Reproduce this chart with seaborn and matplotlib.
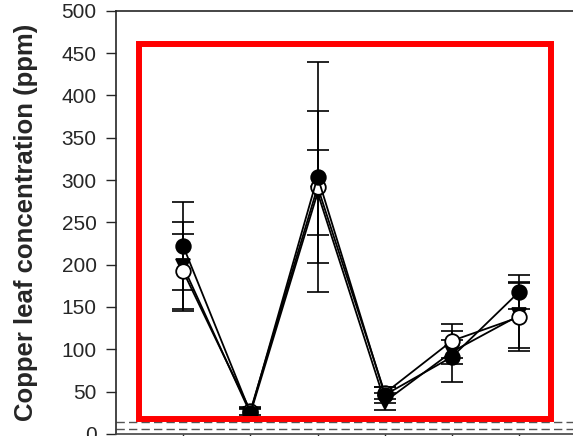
import matplotlib
matplotlib.use("Agg")
import matplotlib.pyplot as plt
import matplotlib.patches as patches
import pandas as pd
import seaborn as sns

# sampling points (categorical positions)
pos = [0, 1, 2, 3, 4, 5]

# three treatments: filled circle, open circle, filled triangle
cu_filled = [222, 25, 304, 46, 91, 168]
cu_open = [192, 27, 292, 48, 110, 138]
cu_tri = [198, 24, 285, 38, 97, 140]

err_filled = [52, 6, 136, 9, 30, 20]
err_open = [44, 5, 90, 7, 20, 40]
err_tri = [53, 5, 50, 10, 14, 39]

yticks = [0, 50, 100, 150, 200, 250, 300, 350, 400, 450, 500]

sns.set_style("ticks")
plt.rcParams["font.family"] = ["Liberation Sans", "DejaVu Sans"]

df = pd.DataFrame({
    "pos": pos * 3,
    "cu": cu_filled + cu_open + cu_tri,
    "grp": ["filled"] * 6 + ["open"] * 6 + ["tri"] * 6,
})

fig = plt.figure(figsize=(5.73, 4.36), dpi=100)
ax = fig.add_axes([0.2024, 0.005, 0.80, 0.97])

# reference dashed lines near the bottom
ax.axhline(14, color="#555555", lw=1, dashes=(6, 3), zorder=1)
ax.axhline(6, color="#555555", lw=1, dashes=(6, 3), zorder=1)

styles = {"filled": ("o", "black"), "open": ("o", "white"), "tri": ("v", "black")}
errs = {"filled": err_filled, "open": err_open, "tri": err_tri}
order = ["tri", "open", "filled"]
for g in order:
    sub = df[df["grp"] == g]
    ax.errorbar(sub["pos"], sub["cu"], yerr=errs[g], fmt="none", ecolor="black",
                elinewidth=1.2, capsize=8, capthick=1.2, zorder=2)
for g in order:
    sub = df[df["grp"] == g]
    m, fc = styles[g]
    sns.lineplot(data=sub, x="pos", y="cu", ax=ax, color="black", lw=1.3,
                 marker=m, markersize=10.5, markerfacecolor=fc,
                 markeredgecolor="black", markeredgewidth=1.3, zorder=3)

ax.set_xlim(-1.0, 5.82)
ax.set_ylim(0, 500)
ax.set_yticks(yticks)
ax.set_xticks(pos)
ax.set_xticklabels([])
ax.tick_params(axis="y", direction="out", length=7, width=1, labelsize=15, pad=7)
ax.tick_params(axis="x", direction="out", length=5, width=1)
ax.spines["right"].set_visible(False)
for s in ["left", "top", "bottom"]:
    ax.spines[s].set_linewidth(1.2)
ax.spines["bottom"].set_color("#444444")
ax.set_xlabel("")
ax.set_ylabel("Copper leaf concentration (ppm)", fontsize=18.5, fontweight="bold", labelpad=17)

# red highlight box
rect = patches.Rectangle((139 / 573, 1 - 419 / 436), (551 - 139) / 573, (419 - 44) / 436,
                         transform=fig.transFigure, fill=False, edgecolor="red",
                         lw=4.3, zorder=10)
fig.patches.append(rect)

fig.savefig("out.png", dpi=100)
